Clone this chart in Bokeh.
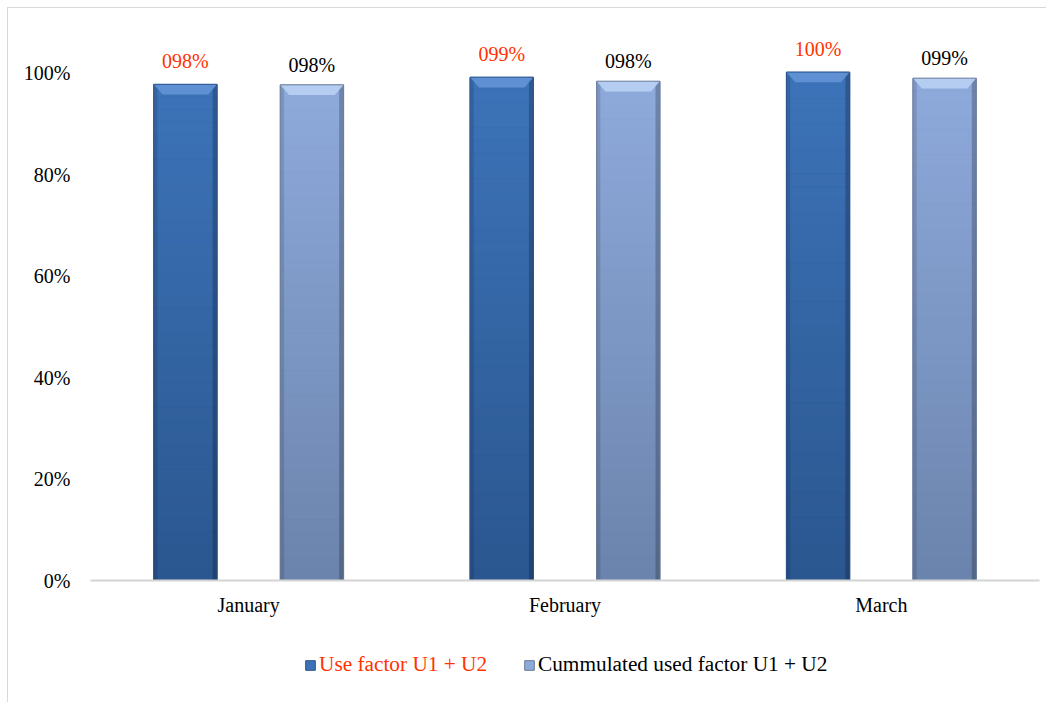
from bokeh.plotting import figure
from bokeh.layouts import column
from bokeh.models import Legend, LegendItem, FixedTicker, NumeralTickFormatter
from bokeh.core.properties import value
from bokeh.embed import file_html
from bokeh.resources import INLINE

months = ["January", "February", "March"]
use_factor = [0.978, 0.992, 1.002]
cum_factor = [0.977, 0.984, 0.990]
series_names = ["Use factor U1 + U2", "Cummulated used factor U1 + U2"]
y_ticks = [0.0, 0.2, 0.4, 0.6, 0.8, 1.0]

FONT = "Liberation Serif"
RED = "#FF3300"
DARK = ("#3C73B8", "#2B5790", "#2A5088", "#6394D6")
LIGHT = ("#8EAADB", "#6B84AD", "#6A7894", "#B9D0F2")

p = figure(frame_width=949, frame_height=558, x_range=(0, 3), y_range=(0, 1.1),
           output_backend="svg", toolbar_location=None,
           min_border_left=82, min_border_right=7, min_border_top=14, min_border_bottom=50)
p.outline_line_color = None
p.xgrid.grid_line_color = None
p.ygrid.grid_line_color = None

xs = [i + 0.5 for i in range(len(months))]
W = 0.2


def mix(c1, c2, t):
    a = [int(c1[i:i + 2], 16) for i in (1, 3, 5)]
    b = [int(c2[i:i + 2], 16) for i in (1, 3, 5)]
    return "#%02x%02x%02x" % tuple(round(a[k] + (b[k] - a[k]) * t) for k in range(3))


def draw_series(vals, offset, cols):
    top_c, bot_c, edge_c, bevel_c = cols
    x = [xi + offset for xi in xs]
    p.vbar(x=x, top=vals, width=W, fill_color=mix(top_c, bot_c, 0.4),
           line_color=edge_c, line_width=1)
    N = 40
    sx, sb, st, sc = [], [], [], []
    for xi, v in zip(x, vals):
        for k in range(N):
            sx.append(xi)
            sb.append(v * k / N)
            st.append(v * (k + 1) / N)
            sc.append(mix(bot_c, top_c, k / (N - 1)))
    p.vbar(x=sx, bottom=sb, top=st, width=W, fill_color=sc, line_color=sc, line_width=0.5)
    # side shading
    p.vbar(x=[xi - W / 2 + 0.006 for xi in x], top=vals, width=0.012,
           fill_color="black", fill_alpha=0.12, line_color=None)
    p.vbar(x=[xi + W / 2 - 0.007 for xi in x], top=vals, width=0.014,
           fill_color="black", fill_alpha=0.22, line_color=None)
    # top bevel
    dx, dy = 0.028, 0.02
    px, py = [], []
    for xi, v in zip(x, vals):
        px.append([xi - W / 2, xi + W / 2, xi + W / 2 - dx, xi - W / 2 + dx])
        py.append([v, v, v - dy, v - dy])
    p.patches(px, py, fill_color=bevel_c, line_color=None, fill_alpha=0.9)
    p.vbar(x=x, top=vals, width=W, fill_color=None, line_color=edge_c, line_width=1, line_alpha=0.7)


draw_series(use_factor, -0.2, DARK)
draw_series(cum_factor, 0.2, LIGHT)

lab1 = ["%03d%%" % round(v * 100) for v in use_factor]
lab2 = ["%03d%%" % round(v * 100) for v in cum_factor]
p.text(x=[xi - 0.2 for xi in xs], y=use_factor, text=lab1, text_align="center",
       text_baseline="alphabetic", y_offset=-23, text_color=RED,
       text_font=value(FONT), text_font_size="20px")
p.text(x=[xi + 0.2 for xi in xs], y=cum_factor, text=lab2, text_align="center",
       text_baseline="alphabetic", y_offset=-20, text_color="black",
       text_font=value(FONT), text_font_size="20px")

# axes
p.xaxis.ticker = FixedTicker(ticks=xs)
p.xaxis.major_label_overrides = {xi: m for xi, m in zip(xs, months)}
p.xaxis.axis_line_color = "#D4D4D4"
p.xaxis.axis_line_width = 2
p.xaxis.major_tick_line_color = None
p.xaxis.minor_tick_line_color = None
p.xaxis.major_label_standoff = 7
p.xaxis.major_label_text_font = FONT
p.xaxis.major_label_text_font_size = "20px"
p.xaxis.major_label_text_color = "black"

p.yaxis.ticker = FixedTicker(ticks=y_ticks)
p.yaxis.formatter = NumeralTickFormatter(format="0%")
p.yaxis.axis_line_color = None
p.yaxis.major_tick_line_color = None
p.yaxis.minor_tick_line_color = None
p.yaxis.major_label_standoff = 14
p.yaxis.major_label_text_font = FONT
p.yaxis.major_label_text_font_size = "20px"
p.yaxis.major_label_text_color = "black"

# legend strip below the chart
lf = figure(frame_width=1038, frame_height=72, x_range=(0, 1), y_range=(0, 1),
            output_backend="svg", toolbar_location=None, x_axis_type=None, y_axis_type=None,
            min_border_left=0, min_border_right=0, min_border_top=0, min_border_bottom=0)
lf.outline_line_color = None
lf.xgrid.grid_line_color = None
lf.ygrid.grid_line_color = None
rl1 = lf.vbar(x=[5], top=[1], width=0.1, fill_color=DARK[0], line_color=DARK[2])
rl2 = lf.vbar(x=[5], top=[1], width=0.1, fill_color=LIGHT[0], line_color=LIGHT[2])

for r, name, col, loc in [(rl1, series_names[0], RED, (296, 25)),
                          (rl2, series_names[1], "black", (515, 25))]:
    lg = Legend(items=[LegendItem(label=name, renderers=[r])], location=loc,
                orientation="horizontal", glyph_width=12, glyph_height=12,
                label_standoff=3, padding=0, margin=0, spacing=0,
                border_line_color=None, background_fill_alpha=0,
                label_text_font=FONT, label_text_font_size="21.3px", label_text_color=col)
    lf.add_layout(lg, "center")

layout = column(p, lf, spacing=0)
layout.styles = {"border-left": "1px solid #d9d9d9", "border-top": "1px solid #d9d9d9",
                 "margin-left": "7px", "margin-top": "7px"}

open("out.html", "w").write(file_html(layout, INLINE))
